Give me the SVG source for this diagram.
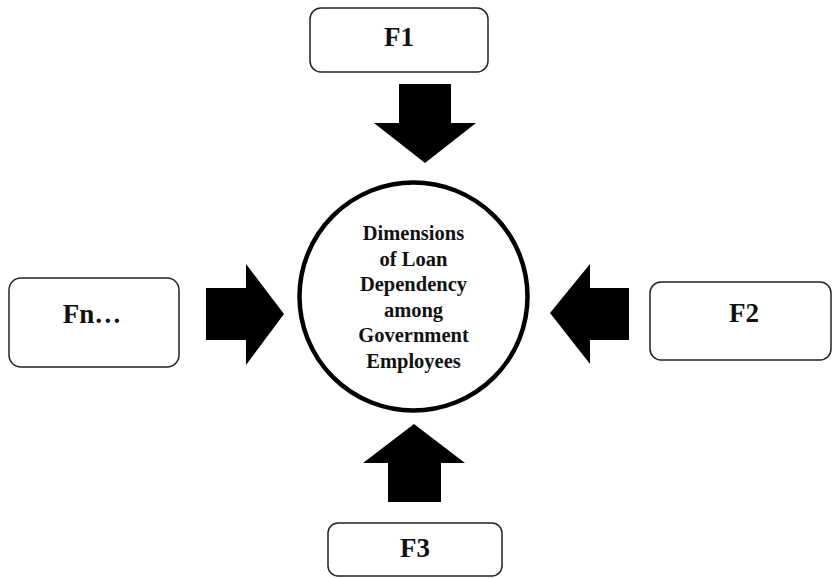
<svg xmlns="http://www.w3.org/2000/svg" width="832" height="578" viewBox="0 0 832 578">
<style>
.box{fill:#fff;stroke:#222;stroke-width:1.5}
.lbl{font-family:"Liberation Serif","Times New Roman",serif;font-weight:bold;font-size:27px;fill:#111;text-anchor:middle}
.ct{font-family:"Liberation Serif","Times New Roman",serif;font-weight:bold;font-size:20.5px;fill:#111;text-anchor:middle}
.arr{fill:#000}
</style>
<rect width="832" height="578" fill="#fff"/>
<g id="center">
<circle cx="413.5" cy="296.5" r="114" fill="#fff" stroke="#000" stroke-width="4.5"/>
<text class="ct" x="413.5" y="240">Dimensions</text>
<text class="ct" x="413.5" y="265.5">of Loan</text>
<text class="ct" x="413.5" y="291">Dependency</text>
<text class="ct" x="413.5" y="316.5">among</text>
<text class="ct" x="413.5" y="342">Government</text>
<text class="ct" x="413.5" y="367.5">Employees</text>
</g>
<g id="F1">
<rect class="box" x="310" y="8" width="178" height="64" rx="11"/>
<text class="lbl" x="399" y="46">F1</text>
</g>
<g id="F2">
<rect class="box" x="650" y="282" width="181" height="78" rx="11"/>
<text class="lbl" x="744" y="322">F2</text>
</g>
<g id="F3">
<rect class="box" x="328" y="523" width="174" height="53" rx="10"/>
<text class="lbl" x="415" y="557">F3</text>
</g>
<g id="Fn">
<rect class="box" x="9" y="278" width="170" height="89" rx="12"/>
<text class="lbl" x="92" y="323">Fn…</text>
</g>
<g id="connectors">
<polygon class="arr" points="399,84 451,84 451,123 476,123 425,163 374,123 399,123"/>
<polygon class="arr" points="629,288 629,340 590,340 590,364 550,313 590,264 590,288"/>
<polygon class="arr" points="388,502 441,502 441,463 465,463 414,424 363,463 388,463"/>
<polygon class="arr" points="206,288 246,288 246,264 284,314 246,365 246,340 206,340"/>
</g>
</svg>
